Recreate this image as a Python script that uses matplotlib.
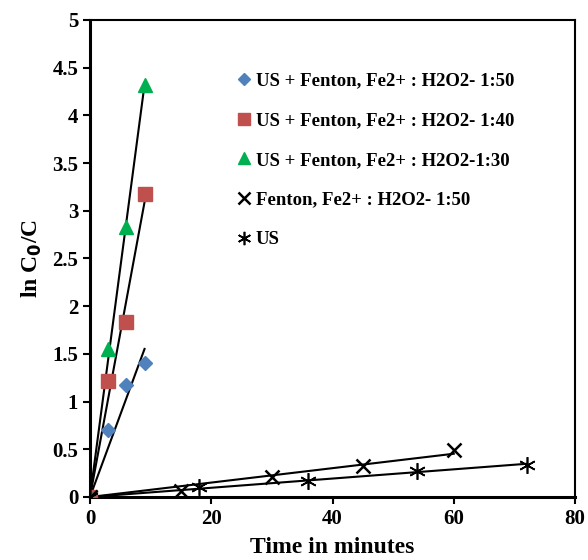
import numpy as np
import matplotlib
matplotlib.use("Agg")
import matplotlib.pyplot as plt

plt.rcParams['font.family'] = ['Liberation Serif', 'DejaVu Serif']
plt.rcParams['font.weight'] = 'bold'

# data
t_us_fenton = [0, 3, 6, 9]
y_150 = [0, 0.70, 1.17, 1.40]
y_140 = [0, 1.22, 1.83, 3.18]
y_130 = [0, 1.55, 2.83, 4.32]

t_fenton = [0, 15, 30, 45, 60]
y_fenton = [0, 0.06, 0.21, 0.32, 0.49]

t_us = [0, 18, 36, 54, 72]
y_us = [0, 0.10, 0.17, 0.27, 0.34]

labels = ["US + Fenton, Fe2+ : H2O2- 1:50",
          "US + Fenton, Fe2+ : H2O2- 1:40",
          "US + Fenton, Fe2+ : H2O2-1:30",
          "Fenton, Fe2+ : H2O2- 1:50",
          "US"]

fig = plt.figure(figsize=(5.88, 5.6), dpi=100)
ax = fig.add_axes([0.153, 0.1125, 0.825, 0.852])

series = [
    (t_us_fenton, y_150, dict(marker='D', color='#4F81BD', markersize=7.5)),
    (t_us_fenton, y_140, dict(marker='s', color='#C0504D', markersize=10)),
    (t_us_fenton, y_130, dict(marker='^', color='#00B050', markersize=10)),
    (t_fenton, y_fenton, dict(marker='x', color='black', markersize=10, markeredgewidth=1.8)),
    (t_us, y_us, dict(marker=(6, 2, 0), color='black', markersize=12, markeredgewidth=1.2)),
]

for (x, y, style), lab in zip(series, labels):
    x = np.array(x, dtype=float)
    y = np.array(y, dtype=float)
    # linear trend line through the origin
    k = (x * y).sum() / (x * x).sum()
    xx = np.array([0, x.max()])
    ax.plot(xx, k * xx, color='black', linewidth=1.5, zorder=2)
    ax.plot(x, y, linestyle='none', label=lab, zorder=3, **style)

ax.set_xlim(0, 80)
ax.set_ylim(0, 5)
ax.set_xticks([0, 20, 40, 60, 80])
ax.set_yticks([0, 0.5, 1, 1.5, 2, 2.5, 3, 3.5, 4, 4.5, 5])
ax.set_yticklabels(['0', '0.5', '1', '1.5', '2', '2.5', '3', '3.5', '4', '4.5', '5'])
ax.tick_params(axis='both', labelsize=15, width=1.5, length=5, direction='out')
for lbl in ax.get_xticklabels() + ax.get_yticklabels():
    lbl.set_fontweight('bold')

ax.spines['left'].set_linewidth(2.2)
ax.spines['bottom'].set_linewidth(2.2)
ax.spines['top'].set_linewidth(1.5)
ax.spines['right'].set_linewidth(1.5)

ax.set_xlabel("Time in minutes", fontsize=17, fontweight='bold', labelpad=6)
ax.set_ylabel("ln C$_\\mathbf{0}$/C", fontsize=17, fontweight='bold', labelpad=6)

ax.legend(loc='upper left', bbox_to_anchor=(0.265, 0.925), frameon=False,
          prop={'weight': 'bold', 'size': 13.5}, labelspacing=1.2,
          handletextpad=0.2, handlelength=0.9, markerscale=0.8)

fig.savefig("out.png", dpi=100)
